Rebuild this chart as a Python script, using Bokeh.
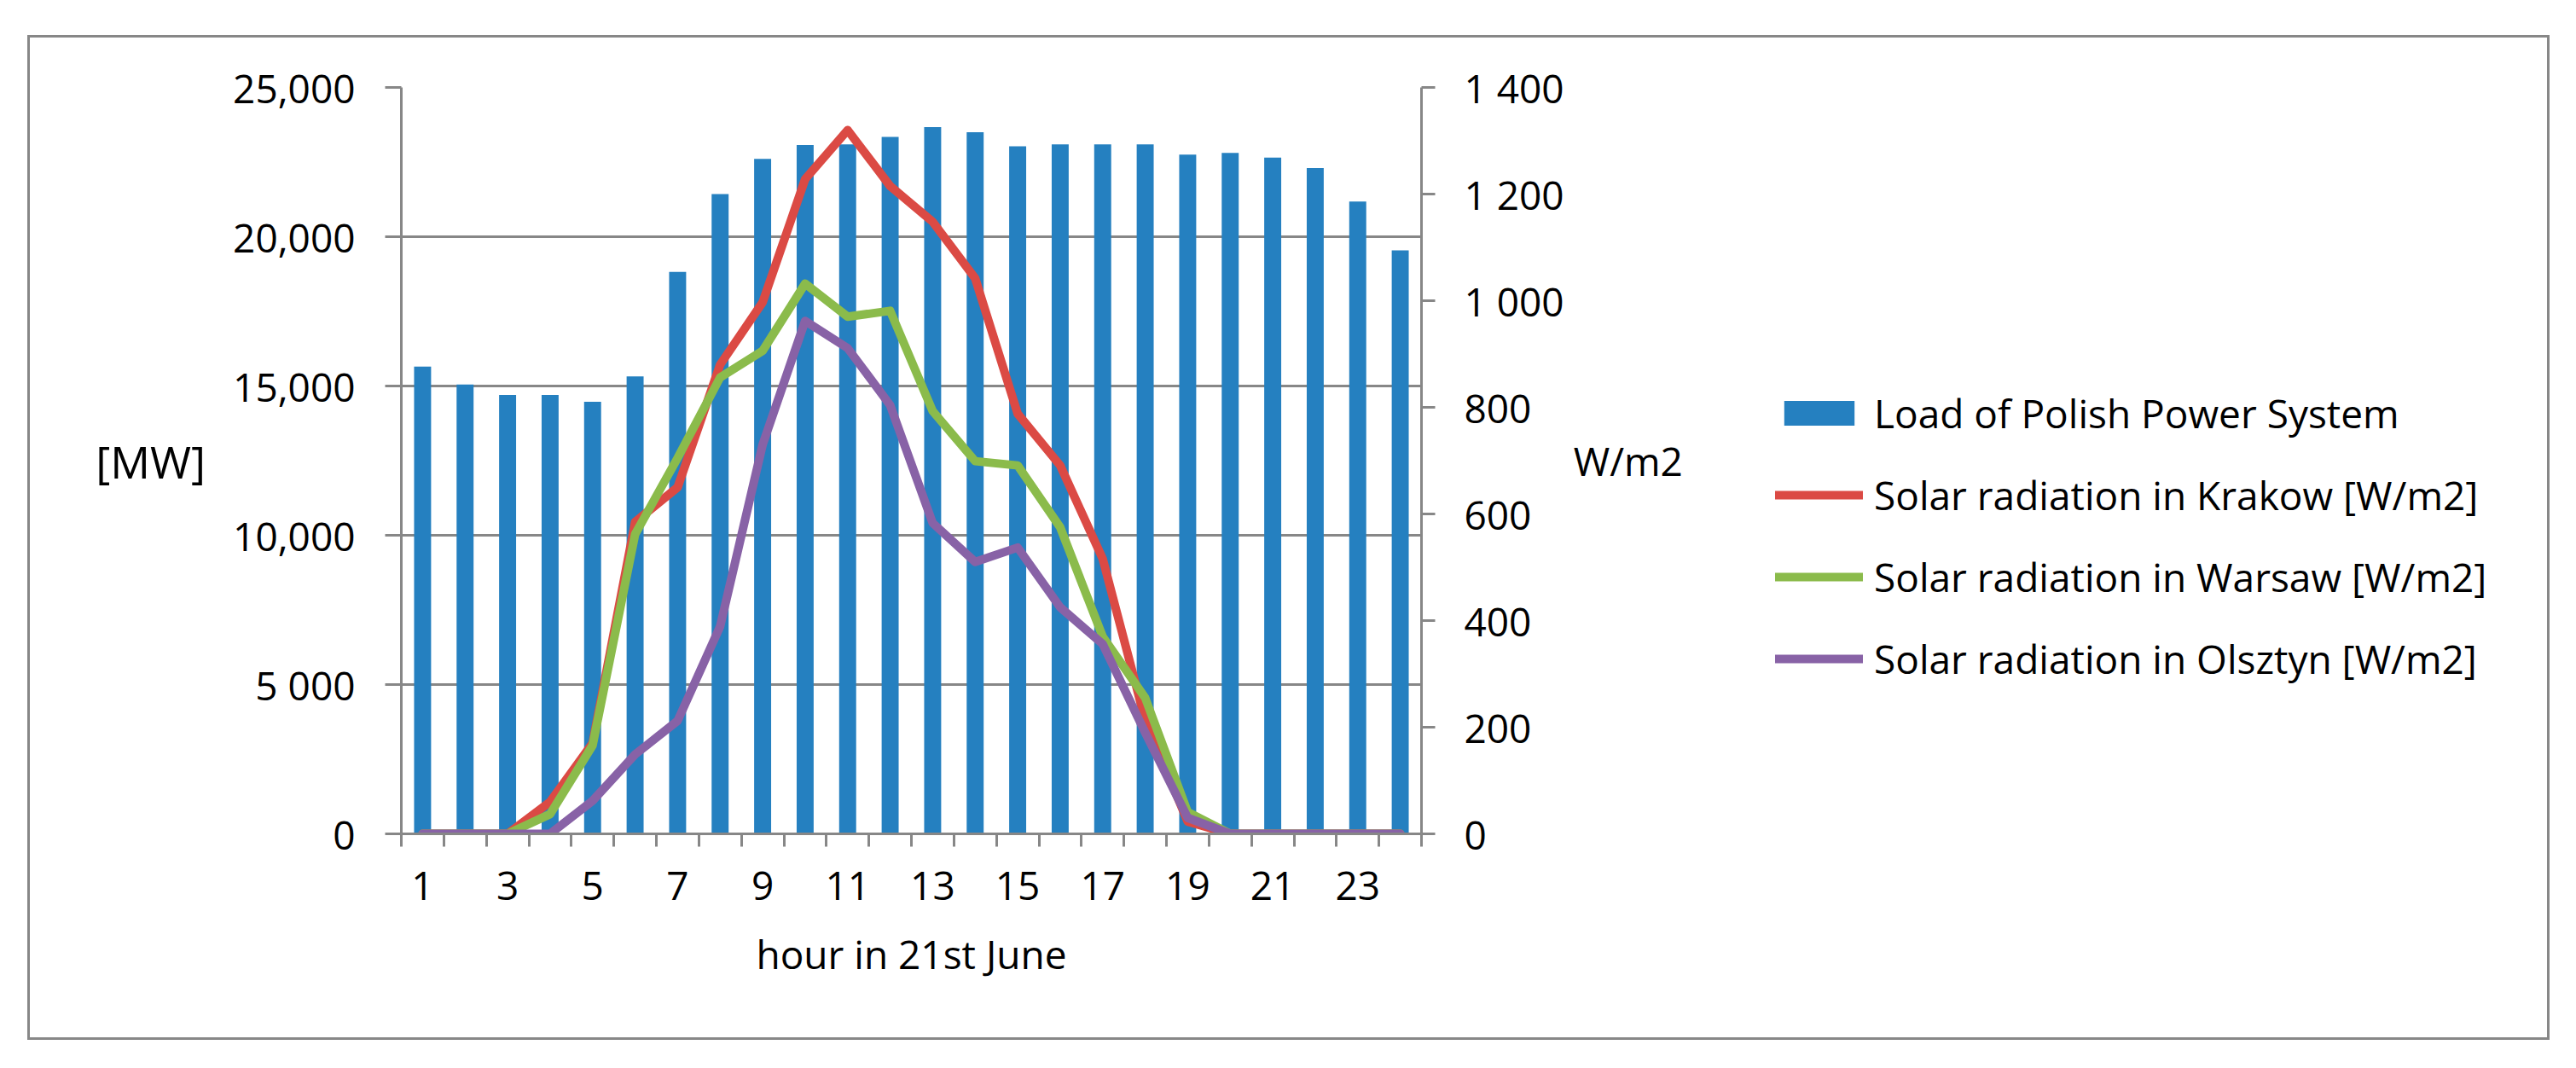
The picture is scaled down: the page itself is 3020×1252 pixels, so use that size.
from bokeh.plotting import figure
from bokeh.models import Range1d, LinearAxis, FixedTicker, Legend, LegendItem, Spacer
from bokeh.layouts import column, row
from bokeh.embed import file_html
from bokeh.resources import INLINE

hours = list(range(1, 25))
load_mw = [15650, 15050, 14700, 14700, 14470, 15320, 18820, 21430, 22610, 23070,
           23090, 23340, 23670, 23500, 23030, 23090, 23090, 23090, 22750, 22810,
           22650, 22300, 21180, 19540]
krakow = [0, 0, 0, 60, 170, 585, 650, 880, 997, 1228, 1320, 1215, 1148, 1042,
          788, 691, 516, 213, 23, 0, 0, 0, 0, 0]
warsaw = [0, 0, 0, 37, 166, 562, 705, 856, 906, 1032, 970, 981, 793, 699,
          691, 575, 370, 255, 41, 0, 0, 0, 0, 0]
olsztyn = [0, 0, 0, 0, 62, 149, 212, 389, 730, 962, 911, 804, 583, 510,
           537, 425, 356, 190, 30, 0, 0, 0, 0, 0]

left_ticks = [0, 5000, 10000, 15000, 20000, 25000]
left_labels = ["0", "5 000", "10,000", "15,000", "20,000", "25,000"]
right_ticks = [0, 200, 400, 600, 800, 1000, 1200, 1400]
right_labels = ["0", "200", "400", "600", "800", "1 000", "1 200", "1 400"]
x_label_ticks = [1, 3, 5, 7, 9, 11, 13, 15, 17, 19, 21, 23]
x_boundaries = [h - 0.5 for h in hours] + [24.5]

series_names = ["Load of Polish Power System",
                "Solar radiation in Krakow [W/m2]",
                "Solar radiation in Warsaw [W/m2]",
                "Solar radiation in Olsztyn [W/m2]"]
series_colors = ["#2580C0", "#DB4A44", "#8BBB4B", "#8862A6"]
radiation = [krakow, warsaw, olsztyn]

FONT = "Open Sans"
FS = "46px"
GRAY = "#878787"
BORDER = "3px solid #878787"

# ---------------- main chart ----------------
p = figure(width=2031, height=1178, output_backend="svg", toolbar_location=None,
           x_range=Range1d(0.5, 24.5), y_range=Range1d(0, 25000),
           min_border_left=435, min_border_right=400, min_border_top=58,
           min_border_bottom=245, background_fill_color="white",
           border_fill_color="white", outline_line_color=None,
           styles={"border-top": BORDER, "border-left": BORDER,
                   "border-bottom": BORDER})
p.extra_y_ranges = {"wm2": Range1d(0, 1400)}

p.vbar(x=hours, top=load_mw, width=0.4, fill_color=series_colors[0], line_color=None)
for vals, col in zip(radiation, series_colors[1:]):
    p.line(hours, vals, y_range_name="wm2", line_color=col, line_width=10,
           line_join="round", line_cap="round")

# grid
p.xgrid.visible = False
p.ygrid.ticker = FixedTicker(ticks=left_ticks)
p.ygrid.grid_line_color = GRAY
p.ygrid.grid_line_width = 3

# x axis
xa = p.xaxis[0]
xa.ticker = FixedTicker(ticks=x_label_ticks, minor_ticks=x_boundaries)
xa.major_tick_out = 0
xa.major_tick_in = 0
xa.minor_tick_out = 15
xa.minor_tick_in = 0
xa.minor_tick_line_color = GRAY
xa.minor_tick_line_width = 3
xa.axis_line_color = GRAY
xa.axis_line_width = 3
xa.major_label_text_font = FONT
xa.major_label_text_font_size = FS
xa.major_label_text_color = "black"
xa.major_label_standoff = 29
xa.axis_label = "hour in 21st June"
xa.axis_label_text_font = FONT
xa.axis_label_text_font_size = FS
xa.axis_label_text_font_style = "normal"
xa.axis_label_text_color = "black"
xa.axis_label_standoff = 29

# left axis
ya = p.yaxis[0]
ya.ticker = FixedTicker(ticks=left_ticks)
ya.major_label_overrides = {t: l for t, l in zip(left_ticks, left_labels)}
ya.major_tick_out = 19
ya.major_tick_in = 0
ya.minor_tick_out = 0
ya.minor_tick_in = 0
ya.major_tick_line_color = GRAY
ya.major_tick_line_width = 3
ya.axis_line_color = GRAY
ya.axis_line_width = 3
ya.major_label_text_font = FONT
ya.major_label_text_font_size = FS
ya.major_label_text_color = "black"
ya.major_label_standoff = 35
ya.axis_label = "[MW]"
ya.axis_label_orientation = "horizontal"
ya.axis_label_text_font = FONT
ya.axis_label_text_font_size = "52px"
ya.axis_label_text_font_style = "normal"
ya.axis_label_text_color = "black"
ya.axis_label_standoff = 29

# right axis
ra = LinearAxis(y_range_name="wm2", ticker=FixedTicker(ticks=right_ticks))
ra.major_label_overrides = {t: l for t, l in zip(right_ticks, right_labels)}
ra.major_tick_out = 16
ra.major_tick_in = 0
ra.minor_tick_out = 0
ra.minor_tick_in = 0
ra.major_tick_line_color = GRAY
ra.major_tick_line_width = 3
ra.axis_line_color = GRAY
ra.axis_line_width = 3
ra.major_label_text_font = FONT
ra.major_label_text_font_size = FS
ra.major_label_text_color = "black"
ra.major_label_standoff = 34
ra.axis_label = "W/m2"
ra.axis_label_orientation = "horizontal"
ra.axis_label_text_font = FONT
ra.axis_label_text_font_size = FS
ra.axis_label_text_font_style = "normal"
ra.axis_label_text_color = "black"
ra.axis_label_standoff = 8
p.add_layout(ra, "right")

# ---------------- legend panel ----------------
# key renderers reuse the series data; the panel's ranges keep them out of view,
# so only their legend swatches are shown
pl = figure(width=926, height=1178, output_backend="svg", toolbar_location=None,
            x_range=Range1d(-3, -2), y_range=Range1d(0, 1),
            x_axis_location=None, y_axis_location=None, min_border=0,
            background_fill_color="white", border_fill_color="white",
            outline_line_color=None,
            styles={"border-top": BORDER, "border-right": BORDER,
                    "border-bottom": BORDER})
pl.grid.visible = False
key_bar = pl.vbar(x=hours, top=load_mw, width=0.4, fill_color=series_colors[0],
                  line_color=None)
key_lines = [pl.line(hours, vals, line_color=col, line_width=10, line_cap="round")
             for vals, col in zip(radiation, series_colors[1:])]

legend = Legend(items=[LegendItem(label=series_names[0], renderers=[key_bar])] +
                      [LegendItem(label=n, renderers=[r])
                       for n, r in zip(series_names[1:], key_lines)],
                location=(18, 174), padding=0, margin=0, spacing=34,
                glyph_width=103, glyph_height=36, label_standoff=13,
                label_text_font=FONT, label_text_font_size=FS,
                label_text_color="black", border_line_alpha=0,
                background_fill_alpha=0)
pl.add_layout(legend, "center")

layout = column(Spacer(height=41), row(Spacer(width=32), p, pl))

open("out.html", "w").write(file_html(layout, INLINE))
